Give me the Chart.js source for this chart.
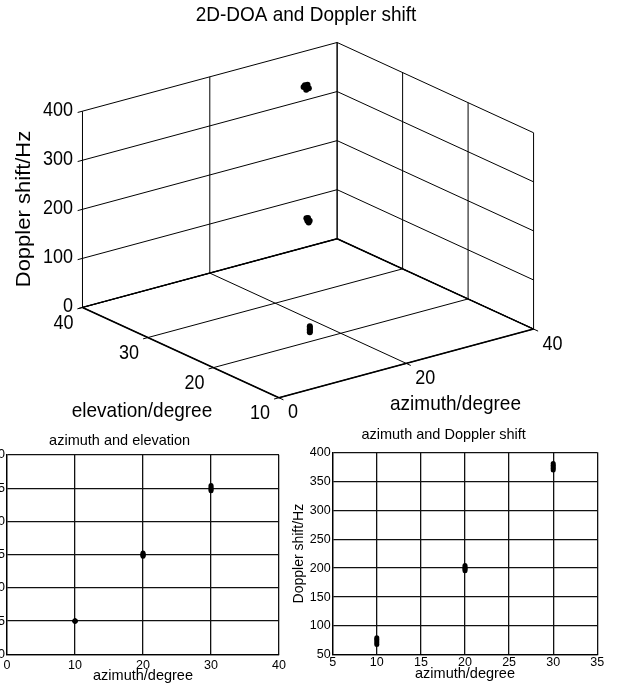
<!DOCTYPE html>
<html>
<head>
<meta charset="utf-8">
<script src="https://cdn.jsdelivr.net/npm/chart.js@4.4.0/dist/chart.umd.min.js"></script>
<style>
  html, body { margin: 0; padding: 0; background: #fff; }
  body { width: 619px; height: 688px; position: relative; overflow: hidden; }
  canvas { position: absolute; }
  #chart3d { left: 0; top: 0; }
  #chartAE { left: -40px; top: 425px; }
  #chartAD { left: 290px; top: 425px; }
</style>
</head>
<body>
<canvas id="chart3d" width="619" height="430"></canvas>
<canvas id="chartAE" width="330" height="263"></canvas>
<canvas id="chartAD" width="329" height="263"></canvas>
<script>
// estimates for the three sources, five trials each
var azimuth   = [10, 10, 10, 10, 10, 20, 20, 20, 20, 20, 30, 30, 30, 30, 30]
var elevation = [15, 15, 15, 15, 15, 24.75, 24.9, 25, 25.1, 25.25, 34.6, 34.8, 35, 35.2, 35.4]
var doppler   = [68, 71, 74, 77, 80, 200, 195.5, 204.5, 198, 202, 375, 380.5, 369.5, 377.5, 372.5]

// 3-D axes ticks
var azTicks3d  = [0, 20, 40]
var elTicks3d  = [10, 20, 30, 40]
var dopTicks3d = [0, 100, 200, 300, 400]

// 2-D axes ticks
var aeAzTicks  = [0, 10, 20, 30, 40]
var aeElTicks  = [10, 15, 20, 25, 30, 35, 40]
var adAzTicks  = [5, 10, 15, 20, 25, 30, 35]
var adDopTicks = [50, 100, 150, 200, 250, 300, 350, 400]

Chart.defaults.font.family = "'Liberation Sans', Arial, Helvetica, sans-serif"
Chart.defaults.color = "#000"

var FONT = "'Liberation Sans', Arial, Helvetica, sans-serif"

function first(a) { return a[0] }
function last(a) { return a[a.length - 1] }

// oblique view of the box: origin is (az min, el min, dop min),
// each vector spans the full range of one axis
var view = {
  ox: 278.5, oy: 401.2,
  az: [258, -70],
  el: [-199, -92],
  dop: [0, -200]
}

function project(az, el, dop) {
  var a = (az - first(azTicks3d)) / (last(azTicks3d) - first(azTicks3d))
  var e = (el - first(elTicks3d)) / (last(elTicks3d) - first(elTicks3d))
  var d = (dop - first(dopTicks3d)) / (last(dopTicks3d) - first(dopTicks3d))
  return {
    x: view.ox + a * view.az[0] + e * view.el[0] + d * view.dop[0],
    y: view.oy + a * view.az[1] + e * view.el[1] + d * view.dop[1]
  }
}

var points3d = azimuth.map(function (az, i) {
  return project(az, elevation[i], doppler[i])
})

var boxPlugin = {
  id: "box3d",
  beforeDatasetsDraw: function (chart) {
    var ctx = chart.ctx
    var sx = chart.scales.x, sy = chart.scales.y
    var az0 = first(azTicks3d), az1 = last(azTicks3d)
    var el0 = first(elTicks3d), el1 = last(elTicks3d)
    var d0 = first(dopTicks3d), d1 = last(dopTicks3d)

    function px(az, el, dop) {
      var p = project(az, el, dop)
      return [sx.getPixelForValue(p.x), sy.getPixelForValue(p.y)]
    }
    function seg(a, b, w) {
      ctx.beginPath()
      ctx.lineWidth = w
      ctx.moveTo(a[0], a[1])
      ctx.lineTo(b[0], b[1])
      ctx.stroke()
    }
    // labels are a little taller than the plain face
    function text(str, x, y, size, align, base, rot) {
      ctx.save()
      ctx.font = size + "px " + FONT
      ctx.textAlign = align
      ctx.textBaseline = base
      ctx.translate(x, y)
      ctx.scale(1, 1.1)
      if (rot) ctx.rotate(rot)
      ctx.fillText(str, 0, 0)
      ctx.restore()
    }

    ctx.save()
    ctx.strokeStyle = "#000"
    ctx.fillStyle = "#000"

    // back wall (elevation max)
    dopTicks3d.forEach(function (d) { seg(px(az0, el1, d), px(az1, el1, d), 1) })
    azTicks3d.forEach(function (a) { seg(px(a, el1, d0), px(a, el1, d1), 1) })
    // side wall (azimuth max)
    dopTicks3d.forEach(function (d) { seg(px(az1, el0, d), px(az1, el1, d), 1) })
    elTicks3d.forEach(function (e) { seg(px(az1, e, d0), px(az1, e, d1), 1) })
    // floor
    azTicks3d.forEach(function (a) { seg(px(a, el0, d0), px(a, el1, d0), 1) })
    elTicks3d.forEach(function (e) { seg(px(az0, e, d0), px(az1, e, d0), 1) })
    // floor outline a little heavier
    seg(px(az0, el0, d0), px(az1, el0, d0), 1.6)
    seg(px(az0, el0, d0), px(az0, el1, d0), 1.6)
    seg(px(az0, el1, d0), px(az1, el1, d0), 1.4)
    seg(px(az1, el1, d0), px(az1, el0, d0), 1.4)

    // tick marks
    var la = Math.hypot(view.az[0], view.az[1])
    var le = Math.hypot(view.el[0], view.el[1])
    var tA = [-5 * view.az[0] / la, -5 * view.az[1] / la]
    var tE = [-5 * view.el[0] / le, -5 * view.el[1] / le]
    dopTicks3d.forEach(function (d) {
      var p = px(az0, el1, d)
      seg(p, [p[0] + tA[0], p[1] + tA[1]], 1)
      text(String(d), p[0] - 9.5, p[1] - 1, 18, "right", "middle")
    })
    elTicks3d.forEach(function (e) {
      var p = px(az0, e, d0)
      seg(p, [p[0] + tA[0], p[1] + tA[1]], 1)
      text(String(e), p[0] - 19, p[1] + 16, 18, "center", "middle")
    })
    azTicks3d.forEach(function (a) {
      var p = px(a, el0, d0)
      seg(p, [p[0] + tE[0], p[1] + tE[1]], 1)
      text(String(a), p[0] + 9, p[1] + 15, 18, "left", "middle")
    })

    // titles
    text("2D-DOA and Doppler shift", 306, 20.5, 19, "center", "alphabetic")
    text("elevation/degree", 142, 416.7, 19, "center", "alphabetic")
    text("azimuth/degree", 455.5, 410, 19, "center", "alphabetic")
    text("Doppler shift/Hz", 30, 209, 20, "center", "alphabetic", -Math.PI / 2)
    ctx.restore()
  }
}

new Chart(document.getElementById("chart3d"), {
  type: "scatter",
  data: {
    datasets: [{
      data: points3d,
      pointRadius: 3,
      pointBackgroundColor: "#000",
      pointBorderWidth: 0
    }]
  },
  options: {
    responsive: false,
    animation: false,
    events: [],
    layout: { padding: 0 },
    plugins: { legend: { display: false }, tooltip: { enabled: false } },
    scales: {
      x: { type: "linear", display: false, min: 0, max: 619 },
      y: { type: "linear", display: false, min: 0, max: 430, reverse: true }
    }
  },
  plugins: [boxPlugin]
})

function tickSetter(values) {
  return function (scale) {
    scale.ticks = values.map(function (v) { return { value: v } })
  }
}

function plane(id, o) {
  return new Chart(document.getElementById(id), {
    type: "scatter",
    data: {
      datasets: [{
        data: o.xs.map(function (x, i) { return { x: x, y: o.ys[i] } }),
        pointRadius: 2.5,
        pointBackgroundColor: "#000",
        pointBorderWidth: 0
      }]
    },
    options: {
      responsive: false,
      animation: false,
      events: [],
      layout: { padding: { left: 0, right: o.padRight, top: 0, bottom: 0 } },
      plugins: {
        legend: { display: false },
        tooltip: { enabled: false },
        title: {
          display: true,
          text: o.title,
          color: "#000",
          font: { size: 14.5, weight: "normal" },
          padding: o.titlePad
        }
      },
      scales: {
        x: {
          type: "linear",
          min: first(o.xTicks), max: last(o.xTicks),
          afterBuildTicks: tickSetter(o.xTicks),
          afterFit: function (s) { s.height = o.xHeight },
          grid: { color: "#111", lineWidth: 1.3, drawTicks: false },
          border: { color: "#000", width: 1.3 },
          ticks: { font: { size: 12.5 }, padding: o.xTickPad, maxRotation: 0 },
          title: {
            display: true, text: o.xTitle,
            font: { size: 14.5 }, padding: { top: 0, bottom: o.xTitlePad }
          }
        },
        y: {
          type: "linear",
          min: first(o.yTicks), max: last(o.yTicks),
          afterBuildTicks: tickSetter(o.yTicks),
          afterFit: function (s) { s.width = o.yWidth },
          grid: { color: "#111", lineWidth: 1.3, drawTicks: false },
          border: { color: "#000", width: 1.3 },
          ticks: { font: { size: 12.5 }, padding: 2 },
          title: {
            display: !!o.yTitle, text: o.yTitle || "",
            font: { size: 14 }, padding: { top: 1, bottom: 0 }
          }
        }
      }
    }
  })
}

plane("chartAE", {
  title: "azimuth and elevation",
  xs: azimuth, ys: elevation,
  xTicks: aeAzTicks, yTicks: aeElTicks,
  xTitle: "azimuth/degree",
  padRight: 10.7, titlePad: { top: 7.3, bottom: 5.3 },
  xHeight: 33.7, yWidth: 47, xTickPad: 4, xTitlePad: 3
})

plane("chartAD", {
  title: "azimuth and Doppler shift",
  xs: azimuth, ys: doppler,
  xTicks: adAzTicks, yTicks: adDopTicks,
  xTitle: "azimuth/degree", yTitle: "Doppler shift/Hz",
  padRight: 21.7, titlePad: { top: 1.7, bottom: 8.2 },
  xHeight: 33, yWidth: 42.7, xTickPad: 0, xTitlePad: 5.6
})
</script>
</body>
</html>
